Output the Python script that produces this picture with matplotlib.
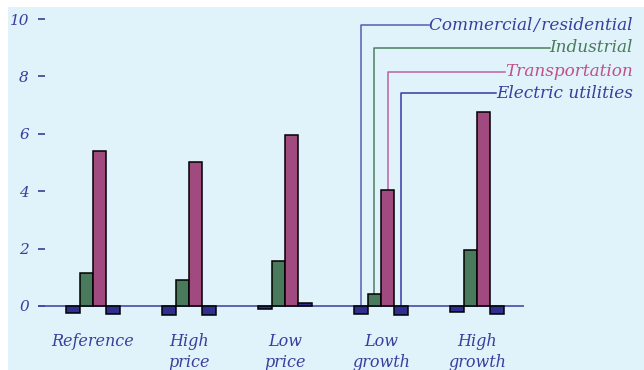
import numpy as np
import matplotlib.pyplot as plt
from matplotlib.patches import Rectangle

# data
scenarios = ['Reference', 'High\nprice', 'Low\nprice', 'Low\ngrowth', 'High\ngrowth']
commercial = [-0.25, -0.30, -0.12, -0.28, -0.22]
industrial = [1.15, 0.90, 1.55, 0.42, 1.95]
transportation = [5.40, 5.02, 5.95, 4.05, 6.75]
electric = [-0.28, -0.30, 0.10, -0.32, -0.28]
series_names = ['Commercial\u200a/\u200aresidential', 'Industrial', 'Transportation', 'Electric utilities']
yticks = [0, 2, 4, 6, 8, 10]

blue_bar = '#2e2f8f'
green_bar = '#4a7a5c'
purple_bar = '#a04a80'
txt_blue = '#3c3c9c'

plt.rcParams['font.family'] = ['DejaVu Serif']
plt.rcParams['font.style'] = 'italic'

fig = plt.figure(figsize=(6.44, 3.70), dpi=100, facecolor='white')
fig.patches.append(Rectangle((8 / 644, 0), 636 / 644, 363 / 370, transform=fig.transFigure,
                             facecolor='#e0f2fa', edgecolor='none', zorder=-10))

ax = fig.add_axes([38 / 644, 0.1265, 486 / 644, 0.8454])
ax.set_facecolor('none')
for s in ax.spines.values():
    s.set_visible(False)

x = np.arange(len(scenarios))
w = 0.14
series = [commercial, industrial, transportation, electric]
colors = [blue_bar, green_bar, purple_bar, blue_bar]
for k, (vals, c) in enumerate(zip(series, colors)):
    ax.bar(x + (k - 1.5) * w, vals, w, color=c, edgecolor='black', linewidth=1.1, zorder=3)

ax.axhline(0, color='#4a4aa8', lw=1.2, zorder=2)
ax.set_xlim(-0.573, 4.49)
ax.set_ylim(-0.6, 10.3)

ax.set_yticks(yticks)
ax.set_yticklabels([str(t) for t in yticks], fontsize=11, color=txt_blue)
ax.tick_params(axis='y', direction='in', length=5, width=1.2, color=txt_blue, pad=6.5)
ax.set_xticks(x)
ax.set_xticklabels(scenarios, fontsize=11.5, color=txt_blue, linespacing=1.3)
ax.tick_params(axis='x', length=0, pad=7)

# leader lines from the "Low growth" bars
g = 3
levels = [9.79, 9.0, 8.16, 7.42]
line_colors = ['#5a5ab4', '#4a8060', '#c060a0', '#3a3aa0']
label_colors = [txt_blue, '#4a7a5c', '#c0508a', txt_blue]
label_x = 5.625
fig.canvas.draw()
renderer = fig.canvas.get_renderer()
for k in range(4):
    xb = g + (k - 1.5) * w
    y0 = max(series[k][g], 0)
    t = ax.text(label_x, levels[k], series_names[k], ha='right', va='center',
                fontsize=12.2, color=label_colors[k], clip_on=False)
    bb = t.get_window_extent(renderer).transformed(ax.transData.inverted())
    ax.plot([xb, xb, bb.x0], [y0, levels[k], levels[k]], color=line_colors[k],
            lw=1.1, clip_on=False, zorder=1)

fig.savefig('out.png', dpi=100)
